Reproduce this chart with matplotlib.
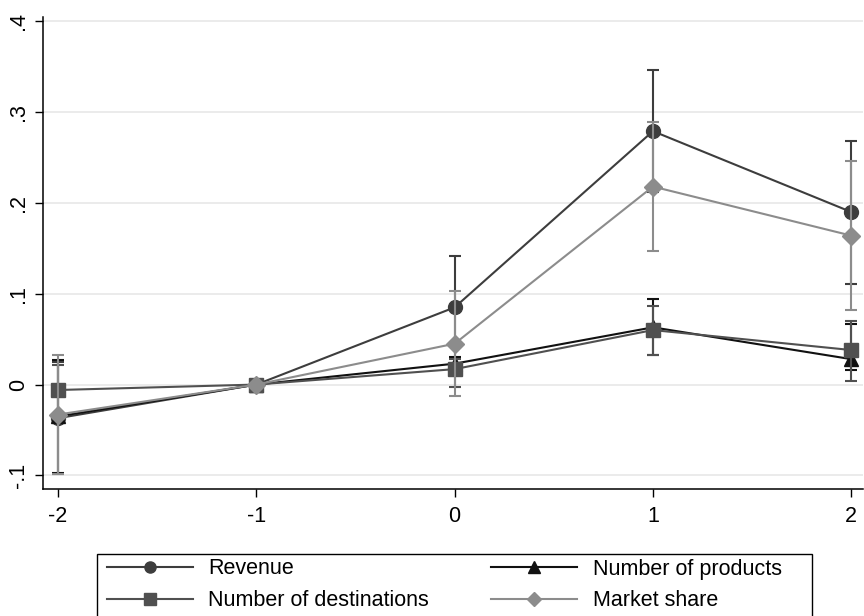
import matplotlib
matplotlib.use("Agg")
import matplotlib.pyplot as plt
from matplotlib.patches import Rectangle
import numpy as np

plt.rcParams['font.family'] = ['Liberation Sans', 'DejaVu Sans']

# event time
periods = [-2, -1, 0, 1, 2]

# point estimates
revenue = [-0.037, 0.0, 0.085, 0.279, 0.190]
products = [-0.035, 0.0, 0.023, 0.063, 0.028]
destinations = [-0.006, 0.0, 0.017, 0.060, 0.038]
market_share = [-0.033, 0.0, 0.045, 0.218, 0.164]

# 95% CI bounds (base period -1 has none)
revenue_lo = [-0.099, np.nan, 0.029, 0.212, 0.111]
revenue_hi = [0.025, np.nan, 0.141, 0.346, 0.268]
products_lo = [-0.097, np.nan, 0.016, 0.032, 0.016]
products_hi = [0.027, np.nan, 0.030, 0.094, 0.067]
destinations_lo = [-0.033, np.nan, -0.003, 0.033, 0.004]
destinations_hi = [0.021, np.nan, 0.028, 0.087, 0.070]
market_share_lo = [-0.099, np.nan, -0.013, 0.147, 0.082]
market_share_hi = [0.033, np.nan, 0.103, 0.289, 0.246]

y_ticks = [-0.1, 0, 0.1, 0.2, 0.3, 0.4]
y_ticklabels = ['-.1', '0', '.1', '.2', '.3', '.4']

series = [
    ('Revenue', revenue, revenue_lo, revenue_hi, 'o', '#3d3d3d', 10),
    ('Number of products', products, products_lo, products_hi, '^', '#111111', 10),
    ('Number of destinations', destinations, destinations_lo, destinations_hi, 's', '#505050', 10),
    ('Market share', market_share, market_share_lo, market_share_hi, 'D', '#8c8c8c', 9),
]

W, H = 864, 616
fig = plt.figure(figsize=(W / 100, H / 100), dpi=100)
ax = fig.add_axes([43 / W, 1 - 489 / H, 1 - 43 / W - 0.001, (489 - 17) / H])

handles = {}
for name, est, lo, hi, mk, col, ms in series:
    est = np.array(est)
    err = np.array([est - np.array(lo), np.array(hi) - est])
    ax.errorbar(periods, est, yerr=err, fmt='none', ecolor=col, elinewidth=1.5,
                capsize=4.5, capthick=1.5)
    h, = ax.plot(periods, est, color=col, lw=1.5, marker=mk, markersize=ms,
                 markerfacecolor=col, markeredgecolor=col)
    handles[name] = h

ax.set_xlim(-2.076, 2.06)
ax.set_ylim(-0.115, 0.4047)
ax.set_xticks(periods)
ax.set_xticklabels([str(p) for p in periods])
ax.set_yticks(y_ticks)
ax.set_yticklabels(y_ticklabels, rotation=90, va='center')
ax.tick_params(axis='both', labelsize=15.5, length=6, width=1, color='black')
ax.tick_params(axis='x', pad=6)
ax.tick_params(axis='y', pad=4)
ax.grid(axis='y', color='#e6e6e6', lw=1.1)
ax.set_axisbelow(True)
for s in ['top', 'right']:
    ax.spines[s].set_visible(False)
for s in ['left', 'bottom']:
    ax.spines[s].set_color('black')
    ax.spines[s].set_linewidth(1.1)

# legend box (bottom cut off by figure edge)
fig.patches.append(Rectangle((97 / W, 1 - 660 / H), (812 - 97) / W, (660 - 553.5) / H,
                             transform=fig.transFigure, fill=False, edgecolor='black',
                             lw=1.0))
order = ['Revenue', 'Number of destinations', 'Number of products', 'Market share']
fig.legend([handles[k] for k in order], order, ncol=2, loc='upper left',
           bbox_to_anchor=(107 / W, 1 - 558.5 / H), frameon=False, fontsize=15.5,
           borderpad=0, borderaxespad=0, handlelength=4.0, handletextpad=0.7,
           labelspacing=0.5, columnspacing=2.9, markerscale=0.8)

fig.savefig('out.png', dpi=100)
